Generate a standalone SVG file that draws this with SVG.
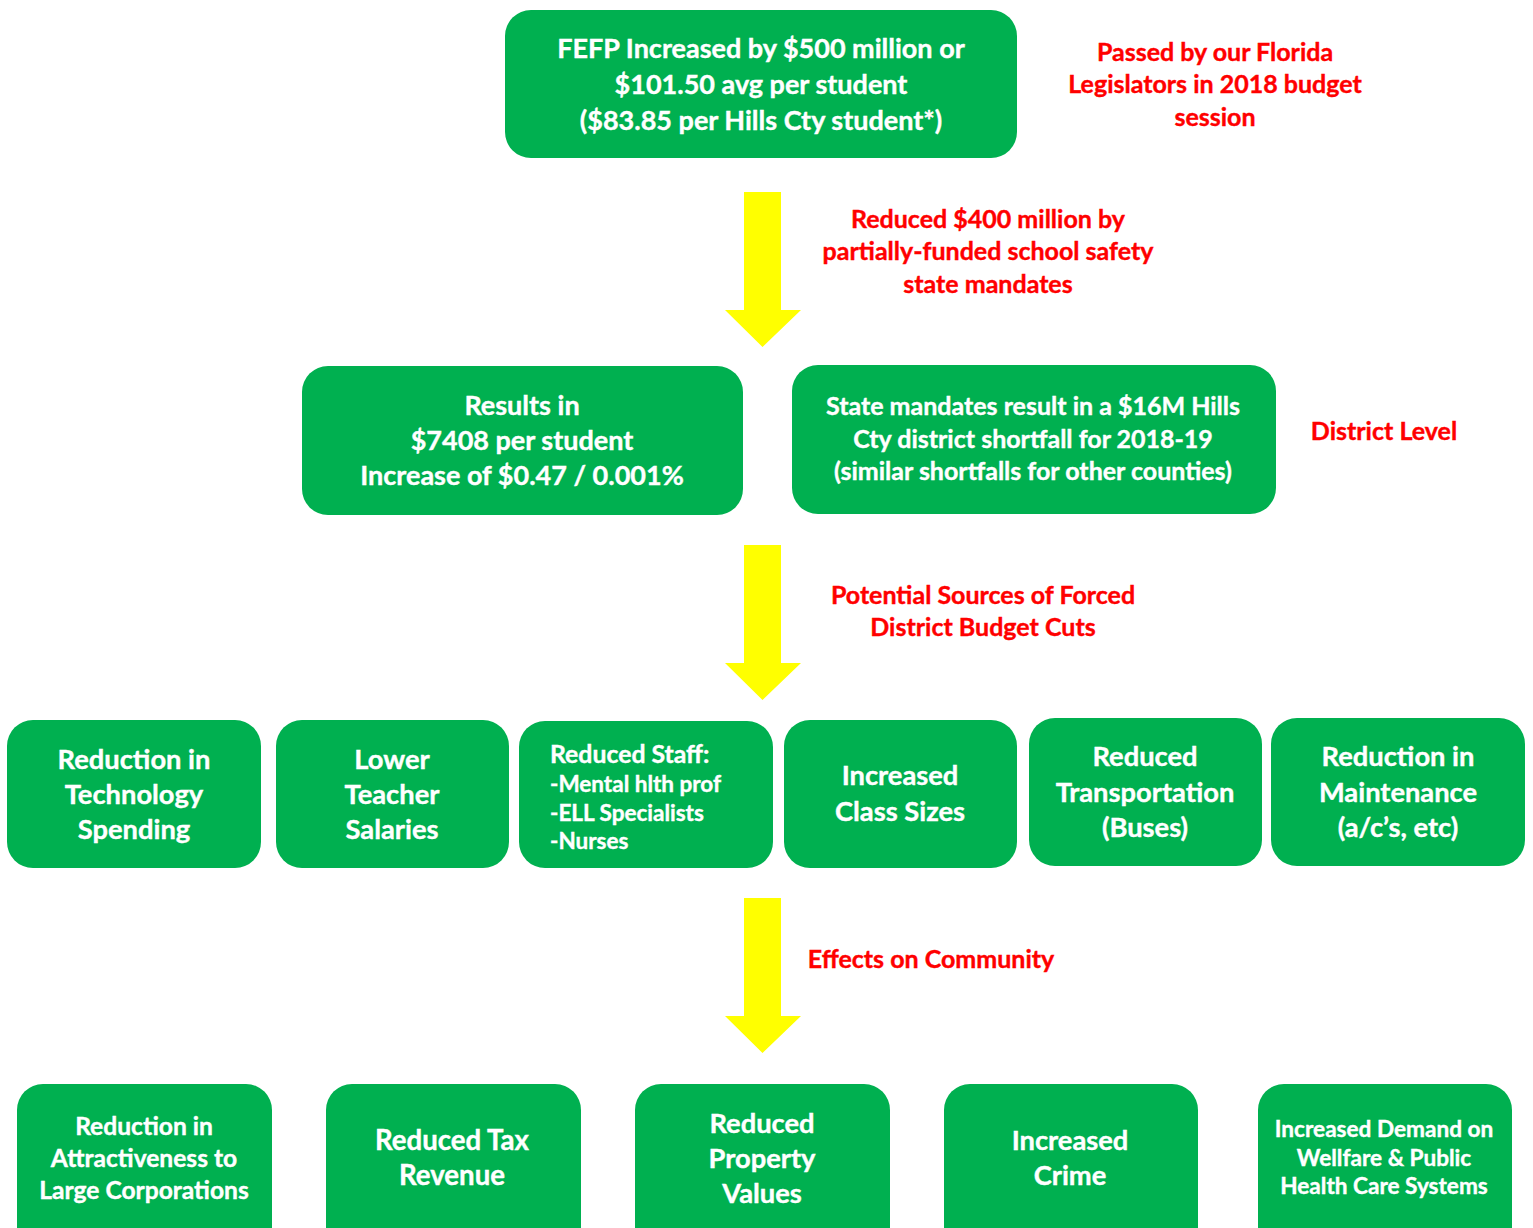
<svg xmlns="http://www.w3.org/2000/svg" width="1533" height="1228" viewBox="0 0 1533 1228">
<style>
.box{fill:#00B050;}
.t{font-family:Lato,"Open Sans","Liberation Sans",sans-serif;font-weight:700;fill:#FFFFFF;stroke:#FFFFFF;stroke-width:0.4;text-anchor:middle;}
.l{text-anchor:start;}
.r{font-family:Lato,"Open Sans","Liberation Sans",sans-serif;font-weight:700;fill:#FF0000;stroke:#FF0000;stroke-width:0.4;text-anchor:middle;font-size:25px;}
.arrow{fill:#FFFF00;}
</style>
<defs>
<path id="arr" d="M744 0 H781 V118 H801 L762.5 155 L725 118 H744 Z"/>
</defs>
<rect width="1533" height="1228" fill="#FFFFFF"/>

<g id="connectors">
<use href="#arr" class="arrow" transform="translate(0,192)"/>
<use href="#arr" class="arrow" transform="translate(0,545)"/>
<use href="#arr" class="arrow" transform="translate(0,898)"/>
</g>

<g id="label-passed">
<text class="r" x="1215" y="61">Passed by our Florida</text>
<text class="r" x="1215" y="93">Legislators in 2018 budget</text>
<text class="r" x="1215" y="126">session</text>
</g>
<g id="label-reduced">
<text class="r" x="988" y="228">Reduced $400 million by</text>
<text class="r" x="988" y="260">partially-funded school safety</text>
<text class="r" x="988" y="293">state mandates</text>
</g>
<g id="label-district">
<text class="r" x="1384" y="440">District Level</text>
</g>
<g id="label-potential">
<text class="r" x="983" y="604">Potential Sources of Forced</text>
<text class="r" x="983" y="636">District Budget Cuts</text>
</g>
<g id="label-effects">
<text class="r" x="931" y="968">Effects on Community</text>
</g>

<g id="fefp">
<rect class="box" x="505" y="10" width="512" height="148" rx="26"/>
<text class="t" font-size="27" x="761" y="58">FEFP Increased by $500 million or</text>
<text class="t" font-size="27" x="761" y="94">$101.50 avg per student</text>
<text class="t" font-size="27" x="761" y="130">($83.85 per Hills Cty student*)</text>
</g>

<g id="results">
<rect class="box" x="302" y="366" width="441" height="149" rx="26"/>
<text class="t" font-size="27" x="522" y="415">Results in</text>
<text class="t" font-size="27" x="522" y="450">$7408 per student</text>
<text class="t" font-size="27" x="522" y="485">Increase of $0.47 / 0.001%</text>
</g>

<g id="shortfall">
<rect class="box" x="792" y="365" width="484" height="149" rx="26"/>
<text class="t" font-size="25" x="1033" y="415">State mandates result in a $16M Hills</text>
<text class="t" font-size="25" x="1033" y="448">Cty district shortfall for 2018-19</text>
<text class="t" font-size="25" x="1033" y="480">(similar shortfalls for other counties)</text>
</g>

<g id="technology">
<rect class="box" x="7" y="720" width="254" height="148" rx="26"/>
<text class="t" font-size="27.3" x="134" y="769">Reduction in</text>
<text class="t" font-size="27.3" x="134" y="804">Technology</text>
<text class="t" font-size="27.3" x="134" y="839">Spending</text>
</g>

<g id="salaries">
<rect class="box" x="276" y="720" width="233" height="148" rx="26"/>
<text class="t" font-size="27.3" x="392" y="769">Lower</text>
<text class="t" font-size="27.3" x="392" y="804">Teacher</text>
<text class="t" font-size="27.3" x="392" y="839">Salaries</text>
</g>

<g id="staff">
<rect class="box" x="519" y="721" width="254" height="147" rx="26"/>
<text class="t l" font-size="24.8" x="550" y="763">Reduced Staff:</text>
<text class="t l" font-size="22.5" x="550" y="792">-Mental hlth prof</text>
<text class="t l" font-size="22.5" x="550" y="821">-ELL Specialists</text>
<text class="t l" font-size="22.5" x="550" y="849">-Nurses</text>
</g>

<g id="classsizes">
<rect class="box" x="784" y="720" width="233" height="148" rx="26"/>
<text class="t" font-size="27.3" x="900" y="785">Increased</text>
<text class="t" font-size="27.3" x="900" y="821">Class Sizes</text>
</g>

<g id="transportation">
<rect class="box" x="1029" y="718" width="233" height="148" rx="26"/>
<text class="t" font-size="27.3" x="1145" y="766">Reduced</text>
<text class="t" font-size="27.3" x="1145" y="802">Transportation</text>
<text class="t" font-size="27.3" x="1145" y="837">(Buses)</text>
</g>

<g id="maintenance">
<rect class="box" x="1271" y="718" width="254" height="148" rx="26"/>
<text class="t" font-size="27.3" x="1398" y="766">Reduction in</text>
<text class="t" font-size="27.3" x="1398" y="802">Maintenance</text>
<text class="t" font-size="27.3" x="1398" y="837">(a/c’s, etc)</text>
</g>

<g id="corporations">
<rect class="box" x="17" y="1084" width="255" height="170" rx="26"/>
<text class="t" font-size="24.6" x="144" y="1135">Reduction in</text>
<text class="t" font-size="24.6" x="144" y="1167">Attractiveness to</text>
<text class="t" font-size="24.6" x="144" y="1199">Large Corporations</text>
</g>

<g id="taxrevenue">
<rect class="box" x="326" y="1084" width="255" height="170" rx="26"/>
<text class="t" font-size="27.6" x="452" y="1150">Reduced Tax</text>
<text class="t" font-size="27.6" x="452" y="1185">Revenue</text>
</g>

<g id="property">
<rect class="box" x="635" y="1084" width="255" height="170" rx="26"/>
<text class="t" font-size="27.3" x="762" y="1133">Reduced</text>
<text class="t" font-size="27.3" x="762" y="1168">Property</text>
<text class="t" font-size="27.3" x="762" y="1203">Values</text>
</g>

<g id="crime">
<rect class="box" x="944" y="1084" width="254" height="170" rx="26"/>
<text class="t" font-size="27.3" x="1070" y="1150">Increased</text>
<text class="t" font-size="27.3" x="1070" y="1185">Crime</text>
</g>

<g id="welfare">
<rect class="box" x="1258" y="1084" width="254" height="170" rx="26"/>
<text class="t" font-size="22.6" x="1384" y="1137">Increased Demand on</text>
<text class="t" font-size="22.6" x="1384" y="1166">Wellfare &amp; Public</text>
<text class="t" font-size="22.6" x="1384" y="1194">Health Care Systems</text>
</g>
</svg>
